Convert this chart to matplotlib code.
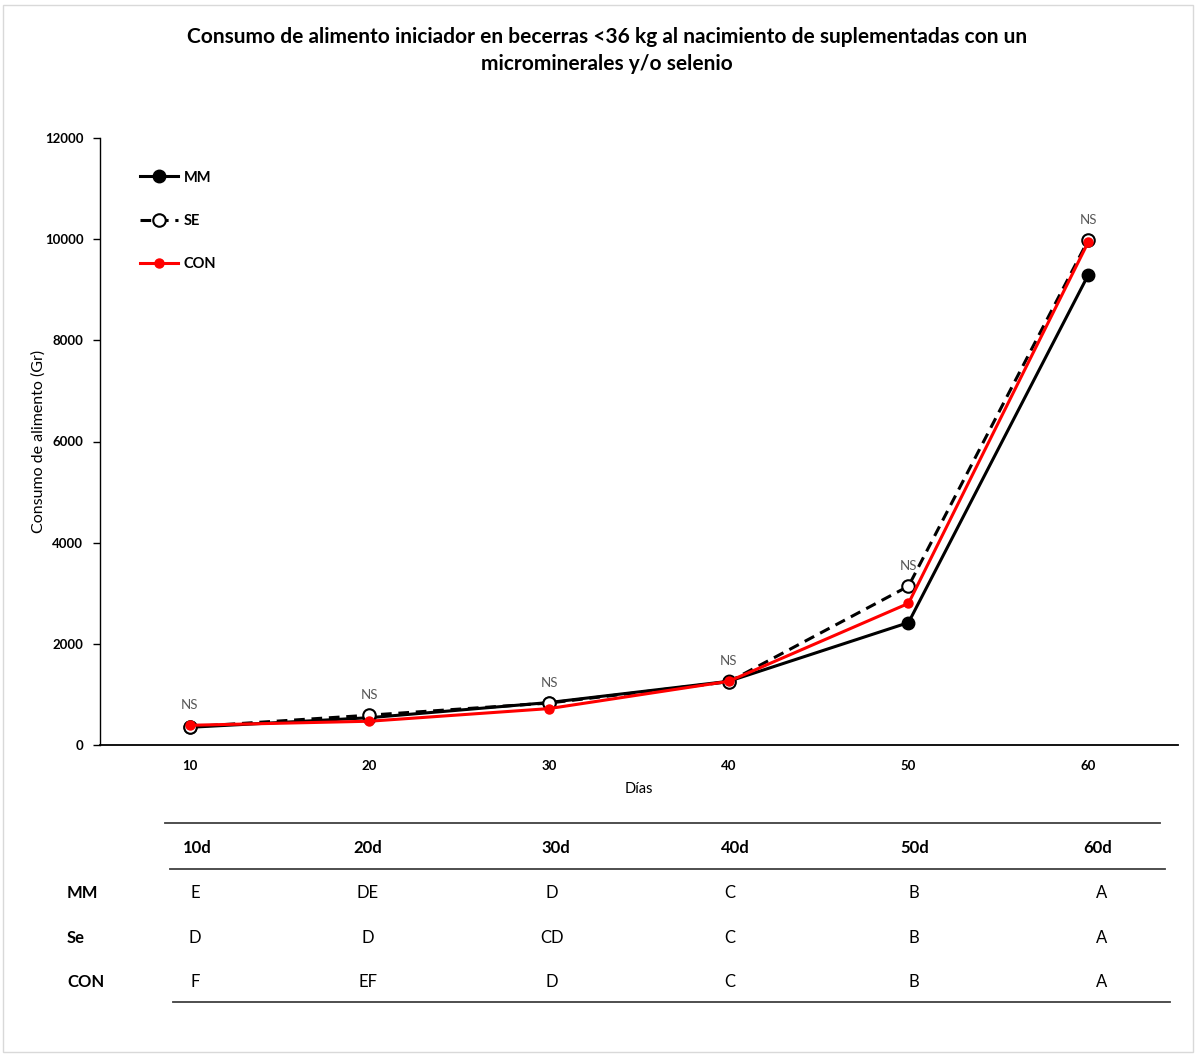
import matplotlib
matplotlib.use("Agg")
import matplotlib.pyplot as plt
from matplotlib.lines import Line2D
from matplotlib.patches import Rectangle

plt.rcParams['font.family'] = ['Lato', 'DejaVu Sans']

# Días de medición
dias = [10, 20, 30, 40, 50, 60]

# Consumo de alimento iniciador (g)
mm = [350, 540, 840, 1260, 2420, 9290]
se = [360, 590, 830, 1250, 3140, 9980]
con = [390, 470, 720, 1260, 2800, 9940]

# Significancia entre tratamientos por día
signif = ["NS", "NS", "NS", "NS", "NS", "NS"]

# Tabla de letras (diferencias entre días dentro de tratamiento)
col_headers = ["10d", "20d", "30d", "40d", "50d", "60d"]
row_labels = ["MM", "Se", "CON"]
letras_mm = ["E", "DE", "D", "C", "B", "A"]
letras_se = ["D", "D", "CD", "C", "B", "A"]
letras_con = ["F", "EF", "D", "C", "B", "A"]

W, H = 1196, 1057
fig = plt.figure(figsize=(W / 100, H / 100), dpi=100)

def fx(px):
    return px / W

def fy(py):
    return 1 - py / H

# marco del área del gráfico
fig.patches.append(Rectangle((fx(3), fy(1052)), fx(1190), 1047 / H,
                             transform=fig.transFigure, fill=False,
                             edgecolor="#d9d9d9", linewidth=1))

ax = fig.add_axes([fx(100), fy(745), fx(1178) - fx(100), fy(138) - fy(745)])

ax.plot(dias, mm, color="black", lw=2.2, marker="o", ms=9,
        mfc="black", mec="black", label="MM", zorder=3)
ax.plot(dias, se, color="black", lw=2.2, ls=(0, (3.5, 2.2)), marker="o", ms=9,
        mfc="white", mec="black", mew=1.5, label="SE", zorder=4)
ax.plot(dias, con, color="#ff0000", lw=2.2, marker="o", ms=6.5,
        mfc="#ff0000", mec="#ff0000", label="CON", zorder=5)

for d, s, a, b, c in zip(dias, signif, mm, se, con):
    ax.annotate(s, (d, max(a, b, c)), xytext=(0, 10), textcoords="offset points",
                ha="center", va="bottom", fontsize=9.5, color="#595959")

ax.set_xlim(5, 65)
ax.set_ylim(0, 12000)
ax.set_yticks(range(0, 12001, 2000))
ax.set_xticks(dias)
ax.set_xticklabels([str(d) for d in dias])
ax.tick_params(axis="y", direction="out", length=5, width=1, labelsize=9.5, pad=7)
ax.tick_params(axis="x", length=0, labelsize=9.5, pad=11)
for lab in ax.get_xticklabels() + ax.get_yticklabels():
    lab.set_fontweight("bold")
ax.spines["top"].set_visible(False)
ax.spines["right"].set_visible(False)
ax.spines["left"].set_linewidth(1)
ax.spines["bottom"].set_linewidth(1.3)
ax.set_xlabel("Días", fontsize=10.5, labelpad=7)
ax.set_ylabel("Consumo de alimento (Gr)", fontsize=11.5, labelpad=-1)

leg = ax.legend(loc="upper left", bbox_to_anchor=(0.025, 0.968), frameon=False,
                fontsize=10.5, handlelength=2.6, labelspacing=2.0, handletextpad=0.4)
for t in leg.get_texts():
    t.set_fontweight("bold")

fig.text(fx(607), fy(37), "Consumo de alimento iniciador en becerras <36 kg al nacimiento de suplementadas con un",
         ha="center", va="center", fontsize=15, fontweight="bold")
fig.text(fx(607), fy(64), "microminerales y/o selenio",
         ha="center", va="center", fontsize=15, fontweight="bold")

# tabla inferior
for (x0, x1, y) in [(165, 1160, 823), (170, 1165, 869), (173, 1170, 1002)]:
    fig.add_artist(Line2D([fx(x0), fx(x1)], [fy(y), fy(y)], color="#404040",
                          lw=1.3, transform=fig.transFigure))

header_x = [197, 368, 556, 735, 915, 1098]
cell_x = [195, 368, 552, 730, 914, 1102]
row_y = [893, 938, 982]

for hx, h in zip(header_x, col_headers):
    fig.text(fx(hx), fy(848), h, ha="center", va="center", fontsize=12, fontweight="bold")

for ry, rl, letras in zip(row_y, row_labels, [letras_mm, letras_se, letras_con]):
    fig.text(fx(67), fy(ry), rl, ha="left", va="center", fontsize=12, fontweight="bold")
    for cx, l in zip(cell_x, letras):
        fig.text(fx(cx), fy(ry), l, ha="center", va="center", fontsize=12)

fig.savefig("out.png", dpi=100)
